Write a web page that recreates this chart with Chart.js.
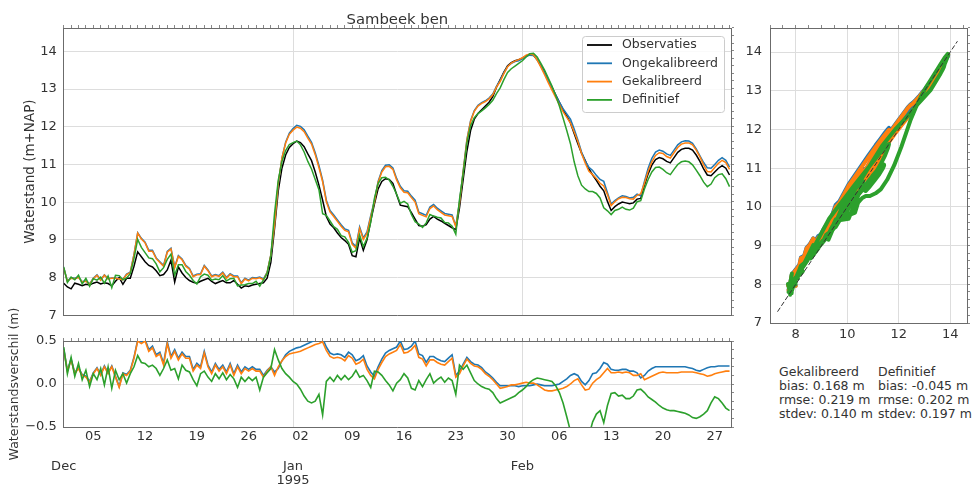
<!DOCTYPE html>
<html>
<head>
<meta charset="utf-8">
<script src="https://cdn.jsdelivr.net/npm/chart.js@4.4.1/dist/chart.umd.min.js"></script>
<style>
  body { margin: 0; background: #fff; }
  #wrap { position: relative; width: 978px; height: 485px; overflow: hidden; font-family: "DejaVu Sans", sans-serif; color: #333; }
  canvas { position: absolute; }
  .stats { position: absolute; top: 365px; font-size: 12.5px; line-height: 13.9px; white-space: pre; }
</style>
</head>
<body>
<div id="wrap">
  <canvas id="mainChart" width="742" height="330" style="left:0;top:0"></canvas>
  <canvas id="diffChart" width="742" height="195" style="left:0;top:290px"></canvas>
  <canvas id="scatterChart" width="243" height="345" style="left:735px;top:0"></canvas>
  <div class="stats" id="stats0" style="left:779px"></div>
  <div class="stats" id="stats1" style="left:878px"></div>
</div>
<script>
// ================= DATA =================
// one sample every 12 hours, starting 1 Dec 1994 00:00 (x = days since then)
const stepDays = 0.5;

const observaties = [
  7.85, 7.75, 7.70, 7.85, 7.82, 7.78, 7.82, 7.80, 7.85, 7.88,
  7.83, 7.86, 7.84, 7.78, 7.90, 8.00, 7.82, 7.98, 7.98, 8.30,
  8.68, 8.55, 8.42, 8.32, 8.28, 8.18, 8.05, 8.08, 8.20, 8.46,
  7.88, 8.28, 8.12, 8.00, 7.92, 7.87, 7.85, 7.90, 7.94, 7.98,
  7.90, 7.84, 7.88, 7.92, 7.86, 7.86, 7.92, 7.82, 7.72, 7.78,
  7.76, 7.80, 7.82, 7.84, 7.86, 7.98, 8.40, 9.30, 10.30, 10.90,
  11.25, 11.45, 11.55, 11.62, 11.58, 11.47, 11.28, 11.10, 10.80, 10.45,
  10.05, 9.62, 9.42, 9.32, 9.18, 9.06, 8.98, 8.88, 8.58, 8.55,
  9.05, 8.72, 9.00, 9.50, 9.95, 10.35, 10.55, 10.62, 10.60, 10.50,
  10.20, 9.92, 9.90, 9.88, 9.72, 9.55, 9.38, 9.36, 9.40, 9.55,
  9.62, 9.55, 9.50, 9.44, 9.38, 9.32, 9.27, 9.85, 10.60, 11.35,
  11.90, 12.20, 12.35, 12.45, 12.55, 12.65, 12.80, 13.05, 13.25, 13.45,
  13.62, 13.70, 13.75, 13.78, 13.82, 13.88, 13.92, 13.90, 13.78, 13.62,
  13.45, 13.25, 13.05, 12.85, 12.65, 12.45, 12.28, 12.10, 11.82, 11.55,
  11.30, 11.10, 10.88, 10.72, 10.58, 10.42, 10.30, 10.02, 9.78, 9.88,
  9.95, 10.00, 9.98, 9.96, 9.98, 10.08, 10.10, 10.45, 10.75, 10.98,
  11.13, 11.18, 11.15, 11.08, 11.04, 11.18, 11.32, 11.40, 11.43, 11.43,
  11.38, 11.25, 11.08, 10.88, 10.72, 10.70, 10.80, 10.90, 10.97, 10.90,
  10.72
];

const verschilOngekalibreerd = [
  0.41, 0.16, 0.29, 0.13, 0.19, 0.11, 0.09, 0.03, 0.13, 0.19,
  0.11, 0.21, 0.13, 0.21, 0.09, -0.03, 0.13, 0.11, 0.16, 0.31,
  0.51, 0.49, 0.52, 0.40, 0.44, 0.34, 0.37, 0.24, 0.49, 0.32,
  0.40, 0.30, 0.37, 0.32, 0.32, 0.17, 0.24, 0.20, 0.38, 0.22,
  0.14, 0.24, 0.17, 0.22, 0.14, 0.24, 0.12, 0.22, 0.14, 0.20,
  0.17, 0.20, 0.17, 0.17, 0.10, 0.16, 0.20, 0.14, 0.18, 0.27,
  0.34, 0.38, 0.40, 0.42, 0.43, 0.45, 0.47, 0.49, 0.51, 0.52,
  0.53, 0.43, 0.36, 0.34, 0.35, 0.34, 0.31, 0.37, 0.34, 0.27,
  0.29, 0.33, 0.21, 0.14, 0.09, 0.20, 0.29, 0.36, 0.39, 0.41,
  0.43, 0.50, 0.40, 0.41, 0.44, 0.50, 0.35, 0.33, 0.25, 0.32,
  0.32, 0.29, 0.27, 0.26, 0.30, 0.34, 0.10, 0.15, 0.23, 0.31,
  0.26, 0.23, 0.22, 0.19, 0.14, 0.11, 0.07, 0.02, -0.02, -0.02,
  -0.02, -0.02, -0.02, -0.03, -0.02, -0.02, -0.02, -0.01, 0.00, -0.01,
  -0.02, -0.02, -0.02, -0.01, 0.00, 0.03, 0.06, 0.10, 0.12, 0.10,
  0.03, -0.01, 0.04, 0.12, 0.13, 0.18, 0.25, 0.23, 0.17, 0.16,
  0.16, 0.17, 0.17, 0.15, 0.15, 0.13, 0.07, 0.10, 0.15, 0.18,
  0.20, 0.20, 0.20, 0.20, 0.20, 0.20, 0.20, 0.20, 0.20, 0.19,
  0.18, 0.16, 0.15, 0.17, 0.19, 0.20, 0.20, 0.21, 0.21, 0.21,
  0.21
];

const verschilGekalibreerd = [
  0.40, 0.15, 0.28, 0.12, 0.18, 0.10, 0.08, 0.02, 0.12, 0.18,
  0.10, 0.20, 0.12, 0.20, 0.08, -0.04, 0.12, 0.10, 0.15, 0.30,
  0.50, 0.47, 0.50, 0.38, 0.42, 0.32, 0.35, 0.22, 0.47, 0.30,
  0.38, 0.28, 0.35, 0.30, 0.30, 0.15, 0.22, 0.18, 0.36, 0.20,
  0.12, 0.22, 0.15, 0.20, 0.12, 0.22, 0.10, 0.20, 0.12, 0.18,
  0.15, 0.18, 0.15, 0.15, 0.08, 0.15, 0.20, 0.10, 0.20, 0.27,
  0.32, 0.35, 0.36, 0.37, 0.38, 0.40, 0.42, 0.44, 0.46, 0.47,
  0.49, 0.39, 0.32, 0.30, 0.31, 0.30, 0.27, 0.33, 0.30, 0.23,
  0.25, 0.29, 0.17, 0.10, 0.06, 0.17, 0.25, 0.32, 0.35, 0.37,
  0.39, 0.46, 0.36, 0.37, 0.40, 0.45, 0.31, 0.29, 0.21, 0.28,
  0.28, 0.25, 0.23, 0.22, 0.26, 0.30, 0.08, 0.12, 0.21, 0.29,
  0.24, 0.21, 0.20, 0.17, 0.12, 0.09, 0.05, 0.00, -0.05, -0.04,
  -0.03, -0.01, -0.01, 0.00, 0.01, 0.02, 0.01, 0.01, -0.01, -0.04,
  -0.07, -0.08, -0.08, -0.07, -0.06, -0.05, -0.03, 0.00, 0.04, 0.06,
  -0.01, -0.07, -0.06, 0.01, 0.05, 0.08, 0.13, 0.18, 0.13, 0.13,
  0.14, 0.13, 0.14, 0.13, 0.10, 0.10, 0.12, 0.05, 0.07, 0.09,
  0.11, 0.13, 0.14, 0.13, 0.13, 0.13, 0.13, 0.14, 0.14, 0.14,
  0.14, 0.13, 0.12, 0.11, 0.09, 0.10, 0.12, 0.13, 0.14, 0.15,
  0.15
];

const verschilDefinitief = [
  0.43, 0.12, 0.31, 0.09, 0.24, 0.05, 0.16, -0.03, 0.12, 0.05,
  0.18, -0.01, 0.20, -0.05, 0.16, 0.05, 0.12, 0.01, 0.12, 0.20,
  0.33, 0.25, 0.24, 0.20, 0.22, 0.18, 0.10, 0.18, 0.28, 0.16,
  0.18, 0.06, 0.22, 0.16, 0.14, 0.05, -0.02, 0.12, 0.15, 0.08,
  0.03, 0.12, 0.06, 0.13, 0.05, 0.11, 0.06, -0.04, 0.08, 0.03,
  0.08, 0.04, 0.08, -0.07, 0.08, 0.13, 0.18, 0.40, 0.28, 0.18,
  0.12, 0.08, 0.03, 0.00, -0.06, -0.14, -0.20, -0.22, -0.20, -0.12,
  -0.36, 0.03, 0.08, 0.03, 0.10, 0.05, 0.10, 0.05, 0.09, 0.16,
  0.08, 0.10, 0.04, -0.04, 0.15, 0.14, 0.10, 0.04, -0.01, -0.08,
  0.01, 0.05, 0.12, 0.07, -0.05, -0.07, 0.04, -0.03, 0.05, 0.12,
  0.01, 0.05, 0.08, 0.02, 0.07, 0.04, -0.12, 0.22, 0.17, 0.22,
  0.13, 0.04, 0.00, -0.03, -0.05, -0.06, -0.10, -0.17, -0.22, -0.20,
  -0.18, -0.16, -0.14, -0.10, -0.07, -0.03, 0.02, 0.05, 0.07, 0.06,
  0.05, 0.04, 0.03, -0.02, -0.10, -0.22, -0.38, -0.55, -0.75, -0.85,
  -0.85, -0.75, -0.60, -0.44, -0.35, -0.31, -0.45, -0.25, -0.11, -0.10,
  -0.14, -0.13, -0.17, -0.17, -0.14, -0.07, -0.06, -0.10, -0.15, -0.18,
  -0.21, -0.25, -0.28, -0.30, -0.31, -0.31, -0.32, -0.33, -0.34, -0.36,
  -0.39, -0.40, -0.38, -0.35, -0.31, -0.22, -0.15, -0.17, -0.22, -0.28,
  -0.31
];

const seriesNames = ["Observaties", "Ongekalibreerd", "Gekalibreerd", "Definitief"];
const seriesColors = ["#000000", "#1f77b4", "#ff7f0e", "#2ca02c"];

const levelTicks = [7, 8, 9, 10, 11, 12, 13, 14];
const verschilTicks = [-0.5, 0, 0.5];
const verschilLabels = ["\u22120.5", "0.0", "0.5"];
const weekDays = [4, 11, 18, 25, 32, 39, 46, 53, 60, 67, 74, 81, 88];
const weekLabels = ["05", "12", "19", "26", "02", "09", "16", "23", "30", "06", "13", "20", "27"];
const monthDays = [0, 31, 62];
const monthLabels = ["Dec", ["Jan", "1995"], "Feb"];
const scatterTicks = [8, 10, 12, 14];
const diagonal = [7.3, 14.27];

const statsNames = ["Gekalibreerd", "Definitief"];
const statsBias = [0.168, -0.045];
const statsRmse = [0.219, 0.202];
const statsStdev = [0.140, 0.197];

// ================= STYLE =================
const SPINE = "#6b6b6b";
const GRID = "#dddddd";
const TEXT = "#333333";
const X_MAX = 90.2;
const Y_MIN = 7, Y_MAX = 14.62;

Chart.defaults.font.family = "'DejaVu Sans', sans-serif";
Chart.defaults.color = TEXT;

const toPoints = vals => vals.map((v, i) => ({ x: i * stepDays, y: v }));
const modelValues = diff => observaties.map((v, i) => v + diff[i]);
const diffs = [verschilOngekalibreerd, verschilGekalibreerd, verschilDefinitief];

// axis that only carries the small minor tick marks on the top / right frame
function minorAxis(position, min, max, step, size) {
  const horizontal = position === "top" || position === "bottom";
  return {
    type: "linear", position, min, max,
    afterFit: s => { if (horizontal) s.height = size; else s.width = size; },
    afterBuildTicks: s => {
      const ticks = [];
      const n = Math.floor((max - min) / step + 1e-6);
      for (let i = 0; i <= n; i++) ticks.push({ value: min + i * step });
      s.ticks = ticks;
    },
    ticks: { display: false, autoSkip: false },
    grid: { drawOnChartArea: false, drawTicks: true, tickLength: 3, color: SPINE, tickWidth: 0.8 },
    border: { display: true, color: SPINE, width: 1 }
  };
}

const baseOptions = {
  responsive: false,
  animation: false,
  devicePixelRatio: 1,
  layout: { padding: 0 },
  plugins: { legend: { display: false }, tooltip: { enabled: false } },
  elements: { point: { radius: 0 }, line: { tension: 0 } }
};

// ================= PLUGINS =================
const panelTitle = {
  id: "panelTitle",
  afterDraw(chart) {
    const { ctx, chartArea } = chart;
    ctx.save();
    ctx.font = "14.8px 'DejaVu Sans'";
    ctx.fillStyle = TEXT;
    ctx.textAlign = "center";
    ctx.textBaseline = "alphabetic";
    ctx.fillText("Sambeek ben", (chartArea.left + chartArea.right) / 2, chartArea.top - 4);
    ctx.restore();
  }
};

const insideLegend = {
  id: "insideLegend",
  afterDraw(chart) {
    const { ctx, chartArea } = chart;
    const w = 142, h = 76;
    const x0 = chartArea.right - w - 7, y0 = chartArea.top + 8;
    ctx.save();
    ctx.beginPath();
    ctx.roundRect(x0 + 0.5, y0 + 0.5, w, h, 3);
    ctx.fillStyle = "rgba(255,255,255,0.85)";
    ctx.fill();
    ctx.strokeStyle = "#cccccc";
    ctx.lineWidth = 1;
    ctx.stroke();
    ctx.font = "12.5px 'DejaVu Sans'";
    ctx.textBaseline = "middle";
    chart.data.datasets.forEach((ds, i) => {
      const y = y0 + 9 + i * 18.3;
      ctx.strokeStyle = ds.borderColor;
      ctx.lineWidth = 1.8;
      ctx.beginPath();
      ctx.moveTo(x0 + 5, y);
      ctx.lineTo(x0 + 30, y);
      ctx.stroke();
      ctx.fillStyle = TEXT;
      ctx.fillText(ds.label, x0 + 40, y);
    });
    ctx.restore();
  }
};

// ================= MAIN PANEL =================
const mainSets = [{
  label: seriesNames[0], data: toPoints(observaties),
  borderColor: seriesColors[0], borderWidth: 1.5, order: 4
}];
diffs.forEach((d, k) => {
  mainSets.push({
    label: seriesNames[k + 1], data: toPoints(modelValues(d)),
    borderColor: seriesColors[k + 1], borderWidth: 1.5, order: 3 - k
  });
});

new Chart(document.getElementById("mainChart"), {
  type: "line",
  data: { datasets: mainSets },
  options: {
    ...baseOptions,
    scales: {
      x: {
        type: "linear", position: "bottom", min: 0, max: X_MAX,
        afterFit: s => { s.height = 7; },
        afterBuildTicks: s => { s.ticks = monthDays.map(v => ({ value: v })); },
        ticks: { display: false },
        grid: { color: GRID, drawTicks: false },
        border: { color: SPINE }
      },
      xTop: minorAxis("top", 0, X_MAX, 1, 28),
      y: {
        type: "linear", position: "left", min: Y_MIN, max: Y_MAX,
        afterFit: s => { s.width = 63.7; },
        afterBuildTicks: s => { s.ticks = levelTicks.map(v => ({ value: v })); },
        ticks: { padding: 7, font: { size: 13 }, autoSkip: false },
        grid: { color: GRID, drawTicks: false },
        border: { color: SPINE },
        title: { display: true, text: "Waterstand (m+NAP)", font: { size: 13.5 }, padding: { top: 22, bottom: 0 } }
      },
      yRight: minorAxis("right", Y_MIN, 14.6, 0.2, 11)
    }
  },
  plugins: [panelTitle, insideLegend]
});

// ================= DIFFERENCE PANEL =================
const diffSets = diffs.map((d, k) => ({
  label: seriesNames[k + 1], data: toPoints(d),
  borderColor: seriesColors[k + 1], borderWidth: 1.6, order: 3 - k
}));

new Chart(document.getElementById("diffChart"), {
  type: "line",
  data: { datasets: diffSets },
  options: {
    ...baseOptions,
    scales: {
      x: {
        type: "linear", position: "bottom", weight: 0, min: 0, max: X_MAX,
        afterFit: s => { s.height = 20; },
        afterBuildTicks: s => { s.ticks = weekDays.map(v => ({ value: v })); },
        ticks: { callback: (v, i) => weekLabels[i], padding: 2, font: { size: 13 }, autoSkip: false, maxRotation: 0 },
        grid: { display: false, drawTicks: false },
        border: { color: SPINE }
      },
      xMonth: {
        type: "linear", position: "bottom", weight: 1, min: 0, max: X_MAX,
        afterFit: s => { s.height = 38; },
        afterBuildTicks: s => { s.ticks = monthDays.map(v => ({ value: v })); },
        ticks: { callback: (v, i) => monthLabels[i], padding: 13, font: { size: 13, lineHeight: 1.05 }, autoSkip: false, maxRotation: 0 },
        grid: { color: GRID, drawTicks: false },
        border: { display: false }
      },
      xTop: minorAxis("top", 0, X_MAX, 1, 51),
      y: {
        type: "linear", position: "left", min: -0.5, max: 0.5,
        afterFit: s => { s.width = 63.7; },
        afterBuildTicks: s => { s.ticks = verschilTicks.map(v => ({ value: v })); },
        ticks: { callback: (v, i) => verschilLabels[i], padding: 7, font: { size: 13 }, autoSkip: false },
        grid: { color: GRID, drawTicks: false },
        border: { color: SPINE },
        title: { display: true, text: "Waterstandsverschil (m)", font: { size: 12.5 }, padding: { top: 7.5, bottom: 0 } }
      },
      yRight: minorAxis("right", -0.5, 0.5, 0.1, 11)
    }
  }
});

// ================= SCATTER PANEL =================
const scatterSets = [{
  label: "1:1", data: diagonal.map(v => ({ x: v, y: v })),
  borderColor: "#333333", borderWidth: 1, borderDash: [4, 3], order: 0
}];
diffs.forEach((d, k) => {
  const model = modelValues(d);
  scatterSets.push({
    label: seriesNames[k + 1],
    data: observaties.map((v, i) => ({ x: v, y: model[i] })),
    borderColor: seriesColors[k + 1], borderWidth: 4, order: 3 - k
  });
});

new Chart(document.getElementById("scatterChart"), {
  type: "scatter",
  data: { datasets: scatterSets },
  options: {
    ...baseOptions,
    showLine: true,
    elements: { point: { radius: 0 }, line: { tension: 0, borderCapStyle: "round", borderJoinStyle: "round" } },
    scales: {
      x: {
        type: "linear", position: "bottom", min: 7, max: 14.65,
        afterFit: s => { s.height = 22; },
        afterBuildTicks: s => { s.ticks = scatterTicks.map(v => ({ value: v })); },
        ticks: { padding: 4, font: { size: 13 }, autoSkip: false, maxRotation: 0 },
        grid: { color: GRID, drawTicks: false },
        border: { color: SPINE }
      },
      xTop: minorAxis("top", 7, 14.65, 0.5, 28),
      y: {
        type: "linear", position: "left", min: Y_MIN, max: Y_MAX,
        afterFit: s => { s.width = 35; },
        afterBuildTicks: s => { s.ticks = levelTicks.map(v => ({ value: v })); },
        ticks: { padding: 8, font: { size: 13 }, autoSkip: false },
        grid: { color: GRID, drawTicks: false },
        border: { color: SPINE }
      },
      yRight: minorAxis("right", Y_MIN, 14.6, 0.2, 11)
    }
  }
});

// ================= STATS TEXT =================
statsNames.forEach((name, i) => {
  const fmt = v => v.toFixed(3) + " m";
  document.getElementById("stats" + i).textContent =
    name + "\nbias: " + fmt(statsBias[i]) + "\nrmse: " + fmt(statsRmse[i]) + "\nstdev: " + fmt(statsStdev[i]);
});
</script>
</body>
</html>
